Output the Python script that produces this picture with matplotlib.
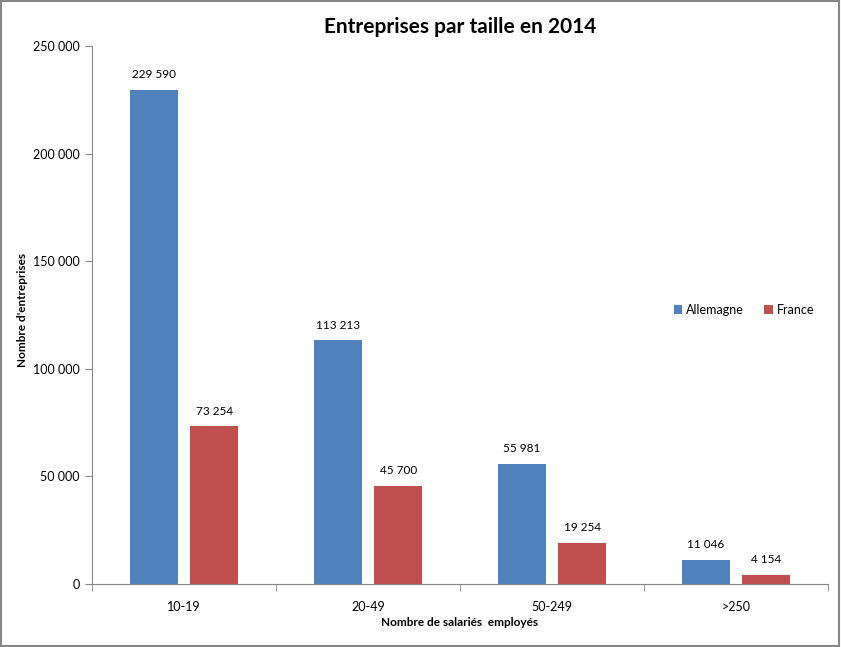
import numpy as np
import matplotlib.pyplot as plt
from matplotlib.patches import Rectangle

# Entreprises par taille en 2014
categories = ['10-19', '20-49', '50-249', '>250']
allemagne = [229590, 113213, 55981, 11046]
france = [73254, 45700, 19254, 4154]

plt.rcParams['font.family'] = ['Lato', 'DejaVu Sans']

fig = plt.figure(figsize=(8.41, 6.47), dpi=100)
ax = fig.add_axes([0.1094, 0.0974, 0.8751, 0.8316])

x = np.arange(len(categories))
w = 0.26
b1 = ax.bar(x - 0.165, allemagne, w, color='#4F81BD', label='Allemagne')
b2 = ax.bar(x + 0.165, france, w, color='#C0504D', label='France')

def fmt(v):
    return f'{v:,}'.replace(',', ' ')

for bars, vals in ((b1, allemagne), (b2, france)):
    for r, v in zip(bars, vals):
        ax.annotate(fmt(v), (r.get_x() + r.get_width() / 2, v), xytext=(0, 7),
                    textcoords='offset points', ha='center', va='bottom', fontsize=8.5)

ax.set_xlim(-0.5, len(categories) - 0.5)
ax.set_ylim(0, 250000)
ax.set_yticks(np.arange(0, 250001, 50000))
ax.set_yticklabels([fmt(v) for v in range(0, 250001, 50000)], fontsize=9)
ax.set_xticks(x)
ax.set_xticklabels(categories, fontsize=9)
ax.set_xticks(np.arange(-0.5, len(categories)), minor=True)
ax.tick_params(axis='x', which='major', length=0, pad=12)
ax.tick_params(axis='x', which='minor', length=5, color='#868686', direction='out')
ax.tick_params(axis='y', length=5, color='#868686', direction='out', pad=4)

for s in ('top', 'right'):
    ax.spines[s].set_visible(False)
for s in ('left', 'bottom'):
    ax.spines[s].set_color('#868686')

ax.set_title('Entreprises par taille en 2014', fontsize=15, fontweight='bold', pad=9)
ax.set_xlabel('Nombre de salariés  employés', fontsize=8.5, fontweight='bold', labelpad=3)
ax.set_ylabel("Nombre d'entreprises", fontsize=8.5, fontweight='bold')
ax.yaxis.set_label_coords(-0.087, 0.51)

ax.legend(loc='center left', bbox_to_anchor=(0.775, 0.51), ncol=2, frameon=False,
          fontsize=9, handlelength=0.7, handleheight=0.7, handletextpad=0.3,
          columnspacing=1.6)

fig.patches.append(Rectangle((0.001, 0.001), 0.997, 0.997, transform=fig.transFigure,
                             fill=False, edgecolor='#868686', linewidth=1.5))

fig.savefig('out.png', dpi=100)
